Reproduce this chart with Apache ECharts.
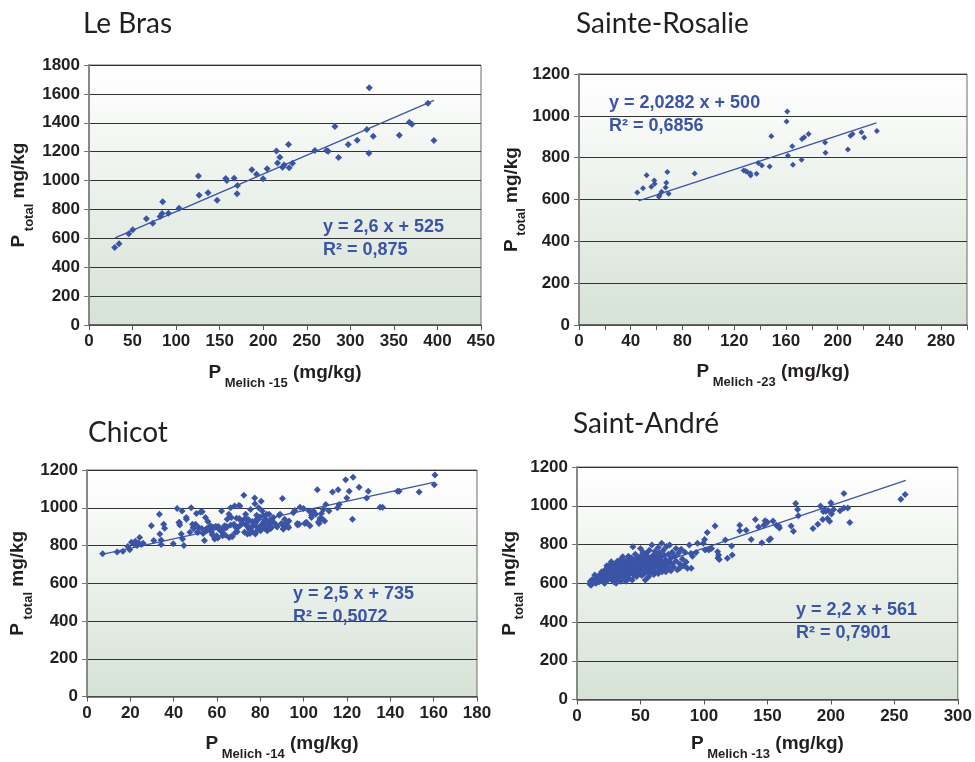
<!DOCTYPE html>
<html>
<head>
<meta charset="utf-8">
<script src="https://cdn.jsdelivr.net/npm/echarts@6/dist/echarts.min.js"></script>
<style>
html,body{margin:0;padding:0;background:#ffffff;}
#chart{width:975px;height:762px;}
</style>
</head>
<body>
<div id="chart"></div>
<script>
// ---------------- DATA ----------------
const panelTitles = ['Le Bras', 'Sainte-Rosalie', 'Chicot', 'Saint-André'];
const melichLabels = ['Melich -15', 'Melich -23', 'Melich -14', 'Melich -13'];
const xMax = [450, 300, 180, 300];
const xStep = [50, 20, 20, 50];
const yMax = [1800, 1200, 1200, 1200];
const yStep = [200, 200, 200, 200];

const fitSlope = [2.6, 2.0282, 2.5, 2.2];
const fitIntercept = [525, 500, 735, 561];
const fitRange = [[30, 396], [46, 230], [7, 160], [10, 259]];
const eqText = ['2,6', '2,0282', '2,5', '2,2'];
const r2Text = ['0,875', '0,6856', '0,5072', '0,7901'];

const leBrasPoints = [
[29.5,537],[34.5,562],[45.6,631],[50.2,659],[65.9,735],[73.2,705],[81.6,751],[83.9,772],[84.6,853],[91.2,774],
[103.4,809],[125.6,1032],[126.4,899],[136.7,915],[147.1,864],[157.0,1014],[158.2,1000],[166.6,1016],[170.4,966],[170.0,908],
[186.9,1074],[192.3,1044],[199.9,1012],[204.5,1081],[215.2,1205],[216.4,1122],[219.1,1162],[222.1,1092],[224.1,1108],[229.0,1249],
[229.8,1088],[233.6,1120],[259.3,1208],[272.7,1208],[274.6,1203],[282.3,1374],[286.5,1159],[297.6,1249],[307.9,1279],[319.0,1353],
[321.3,1189],[321.7,1643],[326.3,1307],[356.2,1314],[367.7,1404],[370.7,1390],[389.1,1535],[396.0,1277]
];

const sainteRosaliePoints = [
[45.1,633],[49.5,654],[52.3,716],[55.9,661],[58.2,691],[58.5,675],[61.8,613],[62.3,621],[63.9,637],[67.0,657],
[67.5,680],[68.3,732],[69.3,627],[89.4,724],[127.3,739],[128.8,736],[130.1,732],[132.4,726],[132.7,715],[137.3,723],
[138.6,775],[141.4,763],[147.4,758],[148.7,902],[160.5,973],[161.0,1021],[161.5,809],[164.9,854],[165.4,766],[172.1,790],
[172.4,889],[174.1,898],[177.5,913],[190.3,873],[190.6,823],[207.9,839],[209.9,905],[211.5,913],[218.4,921],[220.5,897],
[230.3,927]
];

const chicotPoints = [
[7.2,756],[13.9,765],[16.6,770],[18.8,795],[19.7,777],[20.5,817],[21.6,809],[22.3,823],[23.1,800],[23.9,812],
[24.3,843],[25.1,805],[25.9,812],[29.7,904],[30.8,826],[33.4,965],[33.6,861],[34.2,829],[34.2,805],[35.4,913],
[35.8,892],[39.8,809],[41.6,996],[42.4,922],[42.8,909],[43.5,861],[43.9,983],[44.1,835],[44.7,800],[45.8,948],
[47.5,870],[48.1,1000],[48.7,913],[49.0,896],[50.1,913],[50.5,969],[50.9,870],[51.6,896],[52.4,977],[53.2,979],
[53.6,864],[54.2,826],[54.7,948],[55.2,878],[55.8,927],[56.2,887],[57.0,904],[57.8,857],[58.3,896],[58.9,835],
[59.3,899],[59.8,852],[60.4,840],[60.9,887],[61.6,878],[62.1,983],[62.9,861],[63.5,904],[64.4,896],[64.7,939],
[65.5,965],[66.3,1000],[66.6,948],[67.0,847],[67.8,913],[68.1,1009],[68.6,870],[69.0,944],[69.7,896],[70.1,1012],
[70.6,1009],[71.2,930],[71.7,916],[72.4,1066],[72.7,870],[73.2,965],[73.7,904],[74.3,939],[74.7,887],[75.2,864],
[75.5,991],[76.3,927],[76.7,904],[77.4,1052],[77.5,1021],[77.8,870],[78.3,939],[78.6,896],[79.2,1000],[79.8,951],
[80.1,878],[80.4,1035],[80.9,983],[81.4,922],[81.7,904],[82.4,939],[82.9,965],[83.2,882],[84.0,922],[84.4,904],
[85.1,896],[86.0,948],[87.1,913],[87.8,899],[89.1,965],[89.7,916],[90.2,1049],[90.6,887],[91.2,939],[91.7,913],
[92.5,904],[93.2,930],[95.2,974],[95.9,986],[97.1,916],[97.9,913],[98.3,1003],[99.9,996],[100.5,916],[101.4,922],
[102.5,983],[103.6,948],[104.5,983],[105.6,965],[106.3,1096],[107.1,916],[107.6,944],[108.2,969],[109.1,991],[109.7,930],
[110.2,1017],[111.7,983],[113.3,1083],[115.6,1000],[115.9,1096],[116.4,1017],[119.4,1148],[119.9,1052],[121.0,1087],[122.5,939],
[122.8,1162],[125.6,1108],[129.1,1052],[129.8,1087],[135.3,1003],[136.4,1003],[143.3,1087],[144.1,1087],[153.3,1083],[160.3,1122],
[160.6,1174],
[42.7,922],[45.9,939],[49.3,890],[51.3,870],[53.0,890],[55.2,890],[56.7,890],[57.5,870],[59.0,847],[59.5,901],
[60.6,901],[61.6,887],[62.6,852],[63.2,887],[63.8,856],[64.4,901],[65.6,843],[66.3,908],[67.0,852],[68.7,896],
[69.3,873],[70.3,943],[70.9,908],[72.9,943],[73.4,913],[74.0,861],[74.9,930],[76.0,901],[76.4,873],[77.7,861],
[77.9,922],[78.3,960],[79.1,939],[79.8,901],[80.3,887],[81.1,913],[81.4,957],[82.1,890],[82.6,930],[83.2,878],
[83.7,908],[84.1,965],[84.8,890],[85.2,939],[86.0,925],[87.5,901],[88.7,960],[90.1,913],[90.6,887],[91.8,908],
[92.5,901],[93.1,896],[97.2,908],[101.1,922],[102.9,904],[103.7,960],[104.5,970],[106.8,925],[107.6,939],[108.8,939]
];

const saintAndrePoints = [
[10,598],[10.5,610],[11,590],[12,620],[12.5,603],[13,612],[14,643],[14.5,625],[15,600],[16,615],
[17,630],[17.5,608],[18,645],[19,622],[19.5,660],[20,640],[20.5,651],[21,605],[21.8,600],[22,668],
[22.5,630],[23,645],[23.5,690],[24,615],[24.5,660],[25,680],[25.5,637],[26,655],[26.5,700],[27,620],
[27,711],[27.5,672],[28,645],[28.5,690],[29,608],[29.5,660],[30,700],[30.5,630],[30.8,600],[31,680],
[31.5,650],[32,715],[32,620],[32.5,690],[33,665],[33.5,640],[34,705],[34.5,610],[35,680],[35,725],
[35.5,655],[36,737],[36,695],[36.5,630],[37,670],[37.5,710],[38,650],[38,690],[38.5,610],[39,720],
[39,675],[39.5,640],[40,700],[40,660],[40.5,740],[41,625],[41,685],[41.5,715],[42,650],[42,700],
[42.5,672],[43,730],[43.5,617],[43.5,690],[44,789],[44,660],[44.5,705],[45,640],[45,720],[45.5,680],
[46,750],[46,695],[46.5,660],[47,710],[47,635],[47.5,685],[48,730],[48,670],[48.5,700],[49,650],
[49,715],[49.5,690],[50,780],[50,740],[50,665],[50.5,705],[51,640],[51,725],[51.5,690],[52,760],
[52,675],[52.5,710],[53,650],[53,735],[53.5,695],[53.8,617],[54,720],[54,680],[54.5,755],[55,700],
[55,660],[55.5,740],[56,690],[56.4,634],[56.5,715],[57,770],[57,675],[57.5,700],[58,730],[58,655],
[58.5,690],[59,797],[59,715],[59.5,670],[60,745],[60,700],[60.5,645],[61,725],[61,685],[61.5,765],
[62,705],[62,660],[62.5,740],[63,690],[63.5,720],[64,785],[64,650],[64.5,700],[65,755],[65,675],
[65.5,725],[66,690],[66.7,806],[67,740],[67,660],[67.5,710],[68,770],[68,690],[68.5,675],[69,745],
[69,705],[70,720],[70,660],[70.5,790],[71,695],[72,750],[72,680],[73,797],[73,710],[74,730],
[74,665],[75,760],[75,700],[76,685],[77,740],[78,715],[78,780],[79,670],[80,755],[80.8,677],
[81,700],[82.1,775],[83,725],[84,690],[85,760],[86,710],[87,677],[88.5,797],[89.7,754],[90,677],
[91,740],[93.8,759],
[94.9,806],[99.5,806],[100.5,826],[101,771],[102.6,862],[103.8,771],[106,780],[108.7,895],[110.8,763],[111.5,746],
[112.1,723],[111,730],[116.9,823],[118.5,729],[121.8,792],[122.3,746],[128.2,900],[128.2,871],[133.3,874],[137.2,826],
[140.5,929],[143,890],[147.2,900],[148.2,922],[150,915],[145.6,809],[151.3,823],[152.5,830],[154.4,921],[157,900],
[159,895],[159.5,885],[168.7,895],[170.5,869],[172.3,1011],[173.8,981],[174.4,948],[185.9,883],[189.7,905],[191.8,999],
[193.6,929],[194,970],[195,978],[196,972],[197.4,934],[198,975],[199,920],[200.0,1015],[200.5,957],[202.1,981],
[207.2,974],[210.3,1063],[210.3,989],[213.3,989],[214.9,914],[255.1,1034],[258.5,1058]
];

const allPoints = [leBrasPoints, sainteRosaliePoints, chicotPoints, saintAndrePoints];

// ---------------- LAYOUT / STYLE ----------------
const gridBoxes = [
  {left: 89, top: 65, width: 392, height: 260},
  {left: 579, top: 74, width: 388, height: 251},
  {left: 87, top: 470, width: 390, height: 230},
  {left: 577, top: 467, width: 390, height: 233}
];
const titlePos = [[83, 10], [576, 10], [88, 419], [573, 410]];
const xNameGap = [38, 37, 38, 35];
const yNameGap = [40, 37, 39, 37];
const eqPos = [[323, 227], [609, 103], [293, 594], [796, 610]];

const BLUE = '#3b54a5';
const DARK = '#231f20';
const FONT = '"Liberation Sans", Arial, sans-serif';

const bg = new echarts.graphic.LinearGradient(0, 0, 0, 1, [
  {offset: 0, color: '#ffffff'},
  {offset: 1, color: '#d6e2d6'}
]);

const grids = gridBoxes.map(g => Object.assign({
  show: true, backgroundColor: bg, borderColor: '#6a6a6a', borderWidth: 1, containLabel: false
}, g));

const nameRich = {
  p: {fontSize: 19, fontWeight: 'bold', fontFamily: FONT, color: DARK, lineHeight: 20, verticalAlign: 'top'},
  s: {fontSize: 13, fontWeight: 'bold', fontFamily: FONT, color: DARK, lineHeight: 40}
};

const xAxes = [0, 1, 2, 3].map(i => ({
  gridIndex: i, type: 'value', min: 0, max: xMax[i], interval: xStep[i],
  name: '{p|P}{s| ' + melichLabels[i] + '}{p| (mg/kg)}',
  nameLocation: 'middle', nameGap: xNameGap[i],
  nameTextStyle: {rich: nameRich},
  axisLine: {show: true, onZero: false, lineStyle: {color: '#555', width: 1.5}},
  axisTick: {show: true, inside: false, length: 5, lineStyle: {color: '#555'}},
  splitLine: {show: false},
  axisLabel: {
    fontFamily: FONT, fontWeight: 'bold', fontSize: 17, color: DARK, margin: 8,
    showMaxLabel: true,
    formatter: i === 1 ? (v => (v % 40 === 0 && v < 300) ? String(v) : '') : (v => String(v))
  }
}));

const yAxes = [0, 1, 2, 3].map(i => ({
  gridIndex: i, type: 'value', min: 0, max: yMax[i], interval: yStep[i],
  name: '{p|P}{s| total}{p| mg/kg}',
  nameLocation: 'middle', nameGap: yNameGap[i], nameRotate: 90,
  nameTextStyle: {rich: nameRich},
  axisLine: {show: true, onZero: false, lineStyle: {color: '#888', width: 2}},
  axisTick: {show: true, inside: false, length: 5, lineStyle: {color: '#777'}},
  splitLine: {show: true, lineStyle: {color: '#333', width: 1.2}},
  axisLabel: {fontFamily: FONT, fontWeight: 'bold', fontSize: 17, color: DARK, margin: 9,
    formatter: v => String(v)}
}));

const series = [];
for (let i = 0; i < 4; i++) {
  series.push({
    type: 'scatter', xAxisIndex: i, yAxisIndex: i,
    symbol: 'diamond', symbolSize: i === 1 ? 6 : 7,
    itemStyle: {color: BLUE, opacity: 1},
    data: allPoints[i], z: 3
  });
  const [a, b] = fitRange[i];
  series.push({
    type: 'line', xAxisIndex: i, yAxisIndex: i,
    showSymbol: false, symbol: 'none', silent: true,
    lineStyle: {color: BLUE, width: 1.3},
    data: [[a, fitSlope[i] * a + fitIntercept[i]], [b, fitSlope[i] * b + fitIntercept[i]]],
    z: 4
  });
}

const titles = panelTitles.map((t, i) => ({
  text: t, left: titlePos[i][0], top: titlePos[i][1], padding: 0,
  textStyle: {fontFamily: 'Lato, "Open Sans", sans-serif', fontSize: 28, fontWeight: 'normal', color: DARK}
}));

const graphics = [];
for (let i = 0; i < 4; i++) {
  graphics.push({
    type: 'text', x: eqPos[i][0], y: eqPos[i][1], z: 10,
    style: {
      text: 'y = ' + eqText[i] + ' x + ' + fitIntercept[i],
      font: 'bold 18px ' + FONT, fill: BLUE, verticalAlign: 'middle', align: 'left'
    }
  });
  graphics.push({
    type: 'text', x: eqPos[i][0], y: eqPos[i][1] + 23, z: 10,
    style: {
      text: 'R\u00B2 = ' + r2Text[i],
      font: 'bold 18px ' + FONT, fill: BLUE, verticalAlign: 'middle', align: 'left'
    }
  });
}

const chart = echarts.init(document.getElementById('chart'), null, {renderer: 'canvas'});
chart.setOption({
  animation: false,
  backgroundColor: '#ffffff',
  title: titles,
  grid: grids,
  xAxis: xAxes,
  yAxis: yAxes,
  series: series,
  graphic: graphics
});
</script>
</body>
</html>
